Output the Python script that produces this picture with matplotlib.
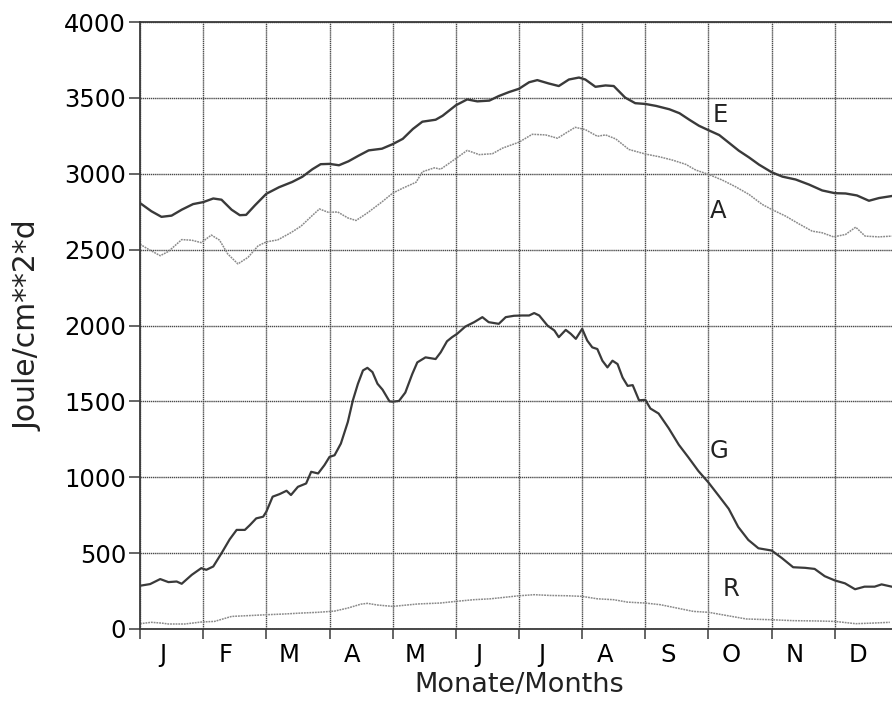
import numpy as np
import matplotlib.pyplot as plt

# monthly solar radiation curves, x in months from 1 Jan
months = ["J", "F", "M", "A", "M", "J", "J", "A", "S", "O", "N", "D"]

e_t = [0, 0.18, 0.34, 0.50, 0.66, 0.84, 1.0, 1.16, 1.29, 1.45, 1.58, 1.68, 1.82, 2.0, 2.2, 2.41,
       2.57, 2.73, 2.86, 3.0, 3.15, 3.3, 3.46, 3.62, 3.83, 4.0, 4.16, 4.32, 4.47, 4.68, 4.79, 5.0,
       5.18, 5.34, 5.53, 5.68, 5.84, 6.0, 6.16, 6.29, 6.47, 6.63, 6.79, 6.95, 7.05, 7.21, 7.37,
       7.5, 7.68, 7.84, 8.0, 8.17, 8.38, 8.54, 8.7, 8.85, 9.0, 9.17, 9.33, 9.48, 9.64, 9.8, 10.0,
       10.17, 10.38, 10.59, 10.8, 11.0, 11.17, 11.35, 11.54, 11.7, 11.9]
e_val = [2807, 2753, 2716, 2724, 2763, 2800, 2813, 2837, 2829, 2763, 2727, 2729, 2792, 2868, 2911,
         2946, 2980, 3030, 3063, 3065, 3056, 3082, 3119, 3154, 3165, 3195, 3230, 3295, 3343, 3356,
         3382, 3451, 3490, 3477, 3482, 3512, 3538, 3560, 3603, 3617, 3595, 3578, 3621, 3634, 3621,
         3573, 3582, 3578, 3502, 3465, 3460, 3447, 3425, 3399, 3355, 3316, 3287, 3255, 3202, 3152,
         3108, 3060, 3010, 2981, 2962, 2929, 2890, 2872, 2870, 2857, 2822, 2840, 2853]

a_t = [0, 0.13, 0.32, 0.45, 0.55, 0.66, 0.82, 0.97, 1.13, 1.26, 1.39, 1.55, 1.71, 1.87, 2.0, 2.18,
       2.39, 2.55, 2.71, 2.84, 2.98, 3.13, 3.29, 3.42, 3.6, 3.82, 4.0, 4.16, 4.37, 4.47, 4.66, 4.76,
       5.0, 5.18, 5.37, 5.58, 5.74, 6.0, 6.21, 6.42, 6.61, 6.76, 6.89, 7.05, 7.24, 7.37, 7.53, 7.74,
       8.0, 8.22, 8.43, 8.64, 8.8, 9.0, 9.22, 9.43, 9.64, 9.85, 10.0, 10.22, 10.43, 10.64, 10.8,
       10.98, 11.17, 11.33, 11.48, 11.7, 11.9]
a_val = [2536, 2503, 2460, 2488, 2525, 2566, 2562, 2546, 2596, 2562, 2471, 2406, 2449, 2525, 2551,
         2564, 2612, 2655, 2718, 2768, 2746, 2748, 2709, 2692, 2742, 2811, 2872, 2905, 2944, 3013,
         3039, 3030, 3100, 3154, 3126, 3132, 3169, 3208, 3260, 3256, 3234, 3273, 3306, 3291, 3247,
         3256, 3230, 3160, 3130, 3112, 3090, 3062, 3024, 2996, 2958, 2914, 2864, 2798, 2765, 2721,
         2670, 2622, 2611, 2584, 2600, 2648, 2589, 2584, 2589]

g_t = [0, 0.16, 0.32, 0.45, 0.58, 0.66, 0.82, 0.97, 1.05, 1.16, 1.29, 1.42, 1.53, 1.66, 1.74, 1.84,
       1.95, 2.0, 2.1, 2.21, 2.32, 2.39, 2.5, 2.63, 2.71, 2.82, 2.92, 3.0, 3.08, 3.18, 3.29, 3.37,
       3.45, 3.53, 3.6, 3.68, 3.76, 3.84, 3.95, 4.0, 4.1, 4.2, 4.31, 4.39, 4.52, 4.68, 4.76, 4.86,
       4.94, 5.02, 5.15, 5.29, 5.42, 5.52, 5.68, 5.79, 5.92, 6.05, 6.16, 6.24, 6.32, 6.45, 6.56,
       6.63, 6.74, 6.82, 6.9, 7.0, 7.08, 7.16, 7.24, 7.32, 7.4, 7.48, 7.56, 7.64, 7.72, 7.8, 7.9,
       8.0, 8.08, 8.21, 8.37, 8.53, 8.68, 8.84, 9.0, 9.16, 9.32, 9.47, 9.63, 9.79, 10.0, 10.16,
       10.34, 10.53, 10.68, 10.84, 11.0, 11.16, 11.32, 11.47, 11.63, 11.74, 11.9]
g_val = [285, 296, 329, 309, 313, 298, 357, 401, 390, 412, 499, 591, 653, 653, 685, 729, 740, 773,
         872, 889, 911, 883, 937, 959, 1036, 1025, 1080, 1134, 1145, 1222, 1364, 1507, 1616, 1704,
         1721, 1693, 1616, 1577, 1500, 1498, 1503, 1558, 1680, 1757, 1790, 1779, 1823, 1896, 1923,
         1945, 1993, 2022, 2055, 2022, 2011, 2055, 2064, 2066, 2066, 2082, 2066, 2000, 1967, 1923,
         1971, 1945, 1912, 1978, 1901, 1856, 1845, 1768, 1724, 1768, 1746, 1657, 1602, 1607, 1507,
         1510, 1453, 1420, 1323, 1214, 1132, 1041, 965, 879, 792, 673, 587, 532, 517, 468, 407,
         403, 396, 348, 320, 301, 262, 279, 279, 294, 279]

r_t = [0, 0.18, 0.34, 0.45, 0.71, 0.97, 1.18, 1.45, 1.71, 2.0, 2.29, 2.55, 2.82, 3.08, 3.29, 3.5,
       3.6, 3.76, 4.0, 4.4, 4.75, 5.0, 5.28, 5.55, 6.0, 6.24, 6.5, 6.77, 7.0, 7.24, 7.5, 7.72, 8.0,
       8.24, 8.5, 8.76, 9.0, 9.3, 9.6, 10.0, 10.34, 10.71, 11.0, 11.33, 11.6, 11.87]
r_val = [35, 44, 39, 33, 33, 46, 50, 83, 88, 94, 99, 105, 110, 118, 138, 164, 169, 158, 149, 165,
         171, 182, 193, 199, 219, 226, 221, 219, 215, 199, 193, 177, 171, 160, 138, 116, 110, 88,
         66, 61, 55, 53, 50, 35, 39, 44]

fig = plt.figure(figsize=(8.92, 7.06), dpi=100)
# the scanned plot area runs a little past the right edge of the picture
ax = fig.add_axes([140 / 892, 77 / 706, 758 / 892, 607 / 706])

dark = "#3a3a3a"
light = "#8a8a8a"
ax.plot(e_t, e_val, color=dark, lw=1.7)
ax.plot(a_t, a_val, color=light, lw=1.1, linestyle=(0, (1.2, 0.6)))
ax.plot(g_t, g_val, color=dark, lw=1.6)
ax.plot(r_t, r_val, color=light, lw=1.1, linestyle=(0, (1.2, 0.6)))

for name, tx, ty in [("E", 9.19, 3390), ("A", 9.16, 2757), ("G", 9.17, 1176), ("R", 9.35, 262)]:
    ax.text(tx, ty, name, fontsize=17.5, ha="center", va="center", color="#222222")

ax.set_xlim(0, 12)
ax.set_ylim(0, 4000)
ax.set_xticks(np.arange(0, 13))
ax.set_xticklabels([])
ax.set_xticks(np.arange(12) + 0.36, minor=True)
ax.set_xticklabels(months, minor=True, fontsize=17.5)
ax.tick_params(axis="x", which="minor", length=0, pad=10)
ax.tick_params(axis="x", which="major", length=7, width=1.1, color=dark, direction="out")
ax.set_yticks(np.arange(0, 4001, 500))
ax.tick_params(axis="y", length=8, width=1.1, color=dark, pad=2, labelsize=17.5)

ax.grid(True, which="major", color="#4a4a4a", lw=1.0, linestyle=(0, (1, 0.5)))
for s in ax.spines.values():
    s.set_color(dark)
    s.set_linewidth(1.3)

ax.set_xlabel("Monate/Months", fontsize=19.5, color="#222222", labelpad=4)
ax.set_ylabel("Joule/cm**2*d", fontsize=21.5, color="#222222", labelpad=16)

fig.savefig("out.png", dpi=100)
